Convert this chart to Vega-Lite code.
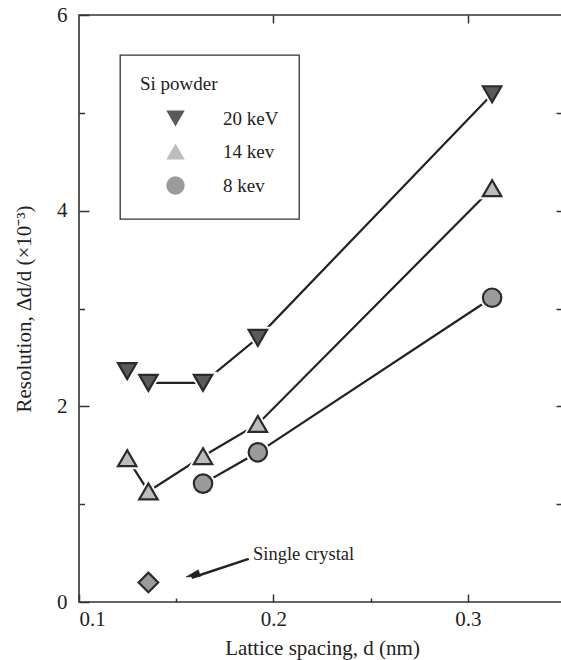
{
  "$schema": "https://vega.github.io/schema/vega-lite/v6.json",
  "width": 486,
  "height": 587,
  "autosize": {"type": "none"},
  "padding": {"left": 79, "top": 15, "right": 0, "bottom": 58},
  "background": "white",
  "config": {
    "view": {"stroke": "#333", "strokeWidth": 1.6},
    "font": "Liberation Serif",
    "axis": {
      "domain": false, "grid": false, "tickColor": "#333", "tickWidth": 1.5,
      "labelFont": "Liberation Serif", "labelFontSize": 21, "labelColor": "#222",
      "titleFont": "Liberation Serif", "titleFontSize": 21, "titleFontWeight": "normal", "titleColor": "#222"
    },
    "legend": {
      "orient": "none", "legendX": 41, "legendY": 40,
      "strokeColor": "#333", "strokeWidth": 1.3, "fillColor": "white", "padding": 20,
      "titleFont": "Liberation Serif", "titleFontSize": 19, "titleFontWeight": "normal", "titleColor": "#222", "titlePadding": 14,
      "labelFont": "Liberation Serif", "labelFontSize": 19, "labelColor": "#222",
      "symbolOffset": 25, "labelOffset": 37, "rowPadding": 8, "symbolSize": 400,
      "symbolStrokeWidth": 2, "symbolStrokeColor": "#222"
    }
  },
  "datasets": {
    "series": [
      {"series": "20 keV", "d": 0.1248, "r": 2.36, "line": false},
      {"series": "20 keV", "d": 0.1357, "r": 2.24, "line": true},
      {"series": "20 keV", "d": 0.1638, "r": 2.24, "line": true},
      {"series": "20 keV", "d": 0.192, "r": 2.70, "line": true},
      {"series": "20 keV", "d": 0.3125, "r": 5.19, "line": true},
      {"series": "14 kev", "d": 0.1248, "r": 1.47, "line": true},
      {"series": "14 kev", "d": 0.1357, "r": 1.13, "line": true},
      {"series": "14 kev", "d": 0.1638, "r": 1.49, "line": true},
      {"series": "14 kev", "d": 0.192, "r": 1.82, "line": true},
      {"series": "14 kev", "d": 0.3125, "r": 4.23, "line": true},
      {"series": "8 kev", "d": 0.1638, "r": 1.21, "line": true},
      {"series": "8 kev", "d": 0.192, "r": 1.53, "line": true},
      {"series": "8 kev", "d": 0.3125, "r": 3.11, "line": true}
    ],
    "crystal": [{"d": 0.1357, "r": 0.20}],
    "note": [{"d": 0.1895, "r": 0.49, "label": "Single crystal"}],
    "arrow": [{"d1": 0.1873, "r1": 0.44, "d2": 0.158, "r2": 0.248, "dt": 0.155, "rt": 0.256}]
  },
  "layer": [
    {
      "data": {"name": "series"},
      "transform": [{"filter": "datum.line"}],
      "mark": {"type": "line", "color": "#222", "strokeWidth": 2.2},
      "encoding": {
        "x": {"field": "d", "type": "quantitative", "scale": {"domain": [0.1, 0.35], "nice": false, "zero": false},
          "axis": {"orient": "bottom", "values": [0.1, 0.2, 0.3], "format": ".1f", "tickSize": -8, "labelPadding": 14, "title": "Lattice spacing, d (nm)", "titlePadding": 8}},
        "y": {"field": "r", "type": "quantitative", "scale": {"domain": [0, 6], "nice": false, "zero": false},
          "axis": {"orient": "left", "values": [0, 2, 4, 6], "format": "d", "tickSize": -10, "labelPadding": 22, "title": "Resolution, Δd/d (×10⁻³)", "titlePadding": 22}},
        "detail": {"field": "series"}
      }
    },
    {
      "data": {"name": "series"},
      "mark": {"type": "point", "filled": true, "fill": "white", "stroke": "white", "strokeWidth": 6, "opacity": 1},
      "encoding": {
        "x": {"field": "d", "type": "quantitative",
          "axis": {"orient": "bottom", "values": [0.15, 0.25], "tickSize": -4, "labels": false, "title": null}},
        "y": {"field": "r", "type": "quantitative",
          "axis": {"orient": "left", "values": [1, 3, 5], "tickSize": -5.5, "labels": false, "title": null}},
        "shape": {"field": "series", "type": "nominal", "title": "Si powder"},
        "size": {"field": "series", "type": "nominal", "title": "Si powder", "scale": {"domain": ["20 keV", "14 kev", "8 kev"], "range": [340, 340, 175]}}
      }
    },
    {
      "data": {"name": "series"},
      "mark": {"type": "point", "filled": true, "stroke": "#2b2b2b", "strokeWidth": 2.2, "opacity": 1},
      "encoding": {
        "x": {"field": "d", "type": "quantitative",
          "axis": {"orient": "top", "values": [0.2, 0.3], "tickSize": -8, "labels": false, "title": null}},
        "y": {"field": "r", "type": "quantitative",
          "axis": {"orient": "right", "values": [1, 2, 3, 4, 5], "tickSize": -9, "labels": false, "title": null}},
        "shape": {"field": "series", "type": "nominal", "title": "Si powder",
          "scale": {"domain": ["20 keV", "14 kev", "8 kev"], "range": ["triangle-down", "triangle-up", "circle"]}},
        "fill": {"field": "series", "type": "nominal", "title": "Si powder",
          "scale": {"domain": ["20 keV", "14 kev", "8 kev"], "range": ["#5a5a5a", "#bdbdbd", "#9b9b9b"]}},
        "size": {"field": "series", "type": "nominal", "title": "Si powder"}
      }
    },
    {
      "data": {"name": "crystal"},
      "mark": {"type": "point", "shape": "diamond", "filled": true, "fill": "#9b9b9b", "stroke": "#2b2b2b", "strokeWidth": 2.2, "size": 384, "opacity": 1},
      "encoding": {
        "x": {"field": "d", "type": "quantitative", "axis": null},
        "y": {"field": "r", "type": "quantitative", "axis": null}
      }
    },
    {
      "data": {"name": "arrow"},
      "mark": {"type": "rule", "color": "#222", "strokeWidth": 2.4},
      "encoding": {
        "x": {"field": "d1", "type": "quantitative", "axis": null},
        "y": {"field": "r1", "type": "quantitative", "axis": null},
        "x2": {"field": "d2"},
        "y2": {"field": "r2"}
      }
    },
    {
      "data": {"name": "arrow"},
      "mark": {"type": "point", "shape": "M0,0L0.5,2L-0.5,2Z", "filled": true, "fill": "#222", "stroke": "#222", "strokeWidth": 0.5, "size": 196, "angle": 254, "opacity": 1},
      "encoding": {
        "x": {"field": "dt", "type": "quantitative", "axis": null},
        "y": {"field": "rt", "type": "quantitative", "axis": null}
      }
    },
    {
      "data": {"name": "note"},
      "mark": {"type": "text", "align": "left", "baseline": "middle", "font": "Liberation Serif", "fontSize": 18.5, "color": "#222"},
      "encoding": {
        "x": {"field": "d", "type": "quantitative", "axis": null},
        "y": {"field": "r", "type": "quantitative", "axis": null},
        "text": {"field": "label"}
      }
    }
  ],
  "resolve": {"axis": {"x": "independent", "y": "independent"}}
}
